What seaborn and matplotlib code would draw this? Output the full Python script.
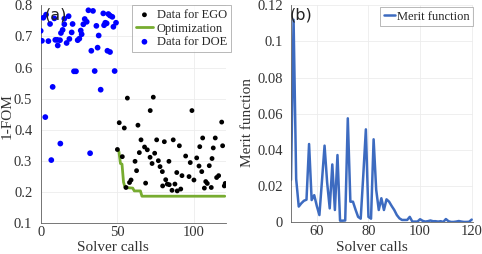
import matplotlib
matplotlib.use("Agg")
import matplotlib.pyplot as plt
import seaborn as sns
import pandas as pd

# ---------------- data ----------------
doe_x = [0, 1.7, 0.8, 3.5, 5.0, 6.1, 8.9, 9.5, 10.8, 11.1, 12.6, 13.2, 14.3, 15.4, 15.4,
         16.9, 18.2, 18.7, 20.2, 20.8, 24.1, 25.2, 26.1, 26.7, 27.8, 28.7, 30.0, 31.1,
         34.1, 36.3, 37.8, 37.1, 33.0, 41.3, 42.1, 43.0, 40.8, 44.1, 45.2, 46.7, 47.4,
         49.1, 43.5, 45.2, 21.7, 23.0, 35.2, 48.2, 39.1, 7.8, 3.0, 12.8, 6.9, 32.2]
doe_y = [0.718, 0.760, 0.686, 0.770, 0.685, 0.740, 0.758, 0.689, 0.689, 0.671, 0.688,
         0.711, 0.721, 0.757, 0.739, 0.679, 0.765, 0.692, 0.713, 0.740, 0.688, 0.693,
         0.719, 0.707, 0.739, 0.756, 0.747, 0.784, 0.782, 0.734, 0.703, 0.664, 0.654,
         0.736, 0.744, 0.742, 0.774, 0.772, 0.767, 0.763, 0.731, 0.744, 0.654, 0.650,
         0.588, 0.588, 0.589, 0.589, 0.529, 0.538, 0.441, 0.356, 0.303, 0.325]

ego_x = [50, 51.2, 54.5, 56.5, 53.2, 63.4, 65.4, 67.7, 69.5, 64.3, 71.3, 61.5, 62.5,
         58.9, 57.9, 55.6, 68.4, 73.4, 71.4, 98.6, 118, 75.6, 80.6, 86.4, 90.4, 74.3,
         76.7, 72.6, 83.6, 94.5, 97.5, 101.7, 103.7, 105.6, 112.5, 111.7, 113.8, 118.6,
         77.8, 79.3, 88.7, 92.1, 96.7, 103.2, 105.0, 109.9, 114.7, 116.0, 81.5, 82.5,
         79.5, 83.8, 87.5, 89.0, 91.3, 85.6, 99.9, 107.6, 108.6, 111.2, 106.7, 120.3,
         119.7]
ego_y = [0.337, 0.423, 0.406, 0.502, 0.314, 0.415, 0.368, 0.345, 0.336, 0.327, 0.312,
         0.299, 0.269, 0.239, 0.231, 0.215, 0.229, 0.505, 0.462, 0.462, 0.425, 0.368,
         0.362, 0.368, 0.349, 0.325, 0.301, 0.292, 0.299, 0.316, 0.295, 0.310, 0.346,
         0.374, 0.342, 0.308, 0.374, 0.349, 0.282, 0.266, 0.263, 0.253, 0.250, 0.284,
         0.266, 0.285, 0.247, 0.253, 0.240, 0.226, 0.220, 0.224, 0.226, 0.204, 0.210,
         0.206, 0.239, 0.234, 0.228, 0.215, 0.213, 0.228, 0.220]

opt_x = [50, 51, 52, 53, 54, 55, 60, 61, 65, 66, 120]
opt_y = [0.337, 0.330, 0.292, 0.290, 0.232, 0.215, 0.213, 0.204, 0.204, 0.187, 0.187]

merit_x = list(range(50, 121))
merit_y = [0.0234, 0.112, 0.024, 0.0087, 0.0105, 0.0119, 0.0125, 0.0433, 0.0123, 0.015,
           0.009, 0.004, 0.023, 0.0424, 0.022, 0.0077, 0.032, 0.0068, 0.0372, 0.0009,
           0.0009, 0.001, 0.0575, 0.0114, 0.0114, 0.007, 0.003, 0.002, 0.026, 0.0514,
           0.003, 0.002, 0.0459, 0.018, 0.0068, 0.0133, 0.0068, 0.0127, 0.0114, 0.009,
           0.0068, 0.004, 0.0022, 0.0013, 0.0013, 0.0013, 0.003, 0.0004, 0.0004, 0.0004,
           0.0017, 0.0008, 0.0004, 0.0006, 0.001, 0.0006, 0.0006, 0.0004, 0.0006, 0.0002,
           0.0018, 0.0006, 0.0002, 0.0002, 0.0004, 0.0007, 0.0004, 0.0002, 0.0002, 0.0003,
           0.0015]

a_xticks = [0, 50, 100]
a_yticks = [0.1, 0.2, 0.3, 0.4, 0.5, 0.6, 0.7, 0.8]
b_xticks = [60, 80, 100, 120]
b_yticks = [0, 0.02, 0.04, 0.06, 0.08, 0.1, 0.12]
b_yticklabels = ["0", "0.02", "0.04", "0.06", "0.08", "0.1", "0.12"]

# ---------------- style ----------------
sns.set_theme(style="white")
plt.rcParams["font.family"] = ["Liberation Serif", "DejaVu Serif"]
plt.rcParams["xtick.direction"] = "in"
plt.rcParams["ytick.direction"] = "in"

fig = plt.figure(figsize=(4.82, 2.54), dpi=100)
W, H = 482, 254

def px_axes(l, r, t, b):
    return fig.add_axes([l / W, 1 - b / H, (r - l) / W, (b - t) / H])

axa = px_axes(40.7, 226.3, 5.3, 223.3)
axb = px_axes(291, 473, 5.3, 222.3)

df_ego = pd.DataFrame({"x": ego_x, "y": ego_y})
df_doe = pd.DataFrame({"x": doe_x, "y": doe_y})
df_opt = pd.DataFrame({"x": opt_x, "y": opt_y})
df_mer = pd.DataFrame({"x": merit_x, "y": merit_y})

sns.scatterplot(data=df_ego, x="x", y="y", ax=axa, color="black", s=12,
                edgecolor="none", label="Data for EGO", zorder=3)
sns.lineplot(data=df_opt, x="x", y="y", ax=axa, color="#77AC30", lw=2,
             label="Optimization", zorder=2)
sns.scatterplot(data=df_doe, x="x", y="y", ax=axa, color="#0000FF", s=17,
                edgecolor="none", label="Data for DOE", zorder=3)

sns.lineplot(data=df_mer, x="x", y="y", ax=axb, color="#3D6BC0", lw=1.8,
             label="Merit function")

for ax in (axa, axb):
    ax.grid(True, color="#ececec", lw=0.6)
    ax.set_axisbelow(True)
    for s in ("top", "right"):
        ax.spines[s].set_visible(False)
    for s in ("left", "bottom"):
        ax.spines[s].set_color("#606060")
        ax.spines[s].set_linewidth(0.6)
    ax.tick_params(labelsize=10.5, length=2, width=0.5, color="#606060",
                   labelcolor="#333333")
    ax.tick_params(axis="y", pad=6)
    ax.tick_params(axis="x", pad=2)

axa.set_xlim(0, 121)
axa.set_ylim(0.1, 0.8)
axa.set_xticks(a_xticks)
axa.set_yticks(a_yticks)
axa.set_yticklabels([f"{v:.1f}" for v in a_yticks])
axa.set_xlabel("Solver calls", fontsize=11, color="#333333")
axa.set_ylabel("1-FOM", fontsize=11, color="#333333")
axa.xaxis.set_label_coords(0.39, -0.081)
axa.yaxis.set_label_coords(-0.145, 0.49)

axb.set_xlim(50, 120.5)
axb.set_ylim(0, 0.12)
axb.set_xticks(b_xticks)
axb.set_yticks(b_yticks)
axb.set_yticklabels(b_yticklabels)
axb.set_xlabel("Solver calls", fontsize=11, color="#333333")
axb.set_ylabel("Merit function", fontsize=11, color="#333333")
axb.xaxis.set_label_coords(0.445, -0.085)
axb.yaxis.set_label_coords(-0.205, 0.46)

lega = axa.legend(loc="upper right", bbox_to_anchor=(1.025, 1.0), fontsize=9,
                  frameon=True, fancybox=False, edgecolor="#999999",
                  handlelength=1.4, handletextpad=0.3, labelspacing=0.12,
                  borderpad=0.3, borderaxespad=0.0, markerscale=1.0)
lega.get_frame().set_linewidth(0.6)
legb = axb.legend(loc="upper right", bbox_to_anchor=(1.0, 0.99), fontsize=9,
                  frameon=True, fancybox=False, edgecolor="#999999",
                  handlelength=0.9, handletextpad=0.2, borderpad=0.25,
                  borderaxespad=0.0)
legb.get_frame().set_linewidth(0.6)

axa.text(0.02, 0.99, "(a)", transform=axa.transAxes, fontsize=11.5,
         family="DejaVu Sans", va="top", ha="left", color="#222222")
axb.text(-0.01, 0.99, "(b)", transform=axb.transAxes, fontsize=11.5,
         family="DejaVu Sans", va="top", ha="left", color="#222222")

fig.savefig("out.png", dpi=100)
